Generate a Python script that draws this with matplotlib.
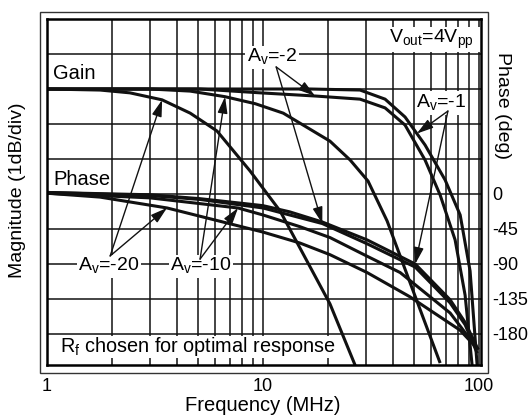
import numpy as np
import matplotlib
matplotlib.use('Agg')
import matplotlib.pyplot as plt
from matplotlib.patches import Rectangle


output_fn = 'out.png'

plt.rcParams['font.family'] = ['Liberation Sans', 'DejaVu Sans']
plt.rcParams['mathtext.fontset'] = 'custom'
plt.rcParams['mathtext.rm'] = 'Liberation Sans'

# Gain, dB relative to the low frequency level (1 dB per division)
gain_freq_av1 = [1, 16.5, 28.1, 36.7, 45.4, 56.2, 69.6, 81.7, 90.8, 97.9]
gain_db_av1 = [0, 0, -0.03, -0.29, -0.8, -1.6, -2.6, -3.6, -5.2, -7.9]

gain_freq_av2 = [1, 5.1, 9.7, 17.4, 28.1, 36.7, 45.4, 56.2, 66.0, 77.4, 86.1, 92.8]
gain_db_av2 = [0, 0, -0.11, -0.2, -0.29, -0.54, -1.03, -2.03, -3.03, -4.31, -5.89, -7.9]

gain_freq_av10 = [1, 3.0, 4.6, 6.67, 9.2, 12.4, 20.4, 25.3, 30.6, 37.5, 49.5, 66]
gain_db_av10 = [0, 0, -0.06, -0.22, -0.42, -0.69, -1.49, -2.03, -2.63, -3.77, -5.77, -7.83]

gain_freq_av20 = [1, 1.76, 2.42, 3.41, 4.6, 6.12, 8.7, 12.0, 20.4, 26.7]
gain_db_av20 = [0, -0.03, -0.11, -0.31, -0.69, -1.2, -2.34, -3.49, -6.14, -7.9]

# Phase, degrees (45 deg per division)
phase_freq_av1 = [1, 3.0, 5.1, 10, 13.3, 18.8, 30.3, 50.6, 73.4, 86.1, 98.9]
phase_deg_av1 = [2, -1, -6, -15, -23, -36, -59, -90, -136, -165, -200]

phase_freq_av2 = [1, 3.0, 5.1, 10, 18.8, 30.3, 50.6, 73.4, 86.1, 98]
phase_deg_av2 = [2, -2, -7, -18, -38, -64, -94, -140, -168, -205]

phase_freq_av10 = [1, 3.0, 7.66, 10, 14.8, 20.4, 30.3, 43.1, 73.4, 98.9]
phase_deg_av10 = [1, -5, -18, -27, -42, -56, -80, -101, -153, -200]

phase_freq_av20 = [1, 1.76, 3.6, 10, 14.8, 20.4, 30.3, 47.7, 81.5, 99]
phase_deg_av20 = [1, -4, -18, -49, -63, -78, -101, -132, -175, -200]

phase_ticks = [0, -45, -90, -135, -180]
freq_ticks = [1, 10, 100]

GAIN_OFFSET = 3.0    # divisions above the 0 deg line
DEG_PER_DIV = 45.0

gains = [(gain_freq_av1, gain_db_av1), (gain_freq_av2, gain_db_av2),
         (gain_freq_av10, gain_db_av10), (gain_freq_av20, gain_db_av20)]
phases = [(phase_freq_av1, phase_deg_av1), (phase_freq_av2, phase_deg_av2),
          (phase_freq_av10, phase_deg_av10), (phase_freq_av20, phase_deg_av20)]


def gain_y(db):
    return GAIN_OFFSET + np.asarray(db, dtype=float)


def phase_y(deg):
    return np.asarray(deg, dtype=float) / DEG_PER_DIV


def on_curve(freq, vals, f):
    return np.interp(np.log10(f), np.log10(freq), vals)


fig = plt.figure(figsize=(5.32, 4.19), dpi=100)
ax = fig.add_axes([47 / 532, 1 - 365 / 419, 434 / 532, 346 / 419])

# outer thin frame round the plot
fig.patches.append(Rectangle((40 / 532, 1 - 373 / 419), 448 / 532, 361 / 419,
                             transform=fig.transFigure, fill=False,
                             lw=1.0, ec='#333333'))

for f, db in gains:
    ax.plot(f, gain_y(db), color='#111111', lw=2.2, solid_capstyle='butt', zorder=3)
for f, deg in phases:
    ax.plot(f, phase_y(deg), color='#111111', lw=2.2, solid_capstyle='butt', zorder=3)

# Axes
ax.set_xscale('log')
ax.set_xlim(1, 102)
ax.set_ylim(-4.886, 5.0)
ax.set_xticks(freq_ticks)
ax.set_xticklabels([str(v) for v in freq_ticks])
ax.set_xticks([m * d for d in (1, 10) for m in range(2, 10)], minor=True)
ax.xaxis.set_minor_formatter(matplotlib.ticker.NullFormatter())
ax.set_yticks(phase_y(phase_ticks))
ax.set_yticklabels([str(v) for v in phase_ticks])
ax.set_yticks([1, 2, 3, 4], minor=True)
ax.yaxis.tick_right()
ax.tick_params(which='both', length=0, labelsize=13)
ax.tick_params(axis='x', pad=9)
ax.tick_params(axis='y', pad=8)
ax.set_axisbelow(True)
ax.grid(which='both', color='#111111', lw=1.1)
for s in ax.spines.values():
    s.set_linewidth(1.8)
    s.set_zorder(5)

# white boxes that hide the grid
ax.add_patch(Rectangle((0.779, 4.06), 0.25, 0.71, transform=ax.get_yaxis_transform(),
                       fc='white', ec='none', zorder=1.5))
ax.add_patch(Rectangle((0.0, -4.69), 0.666, 0.63, transform=ax.get_yaxis_transform(),
                       fc='white', ec='none', zorder=1.5))

ax.text(0.885, 4.43, r'V$_\mathrm{out}$=4V$_\mathrm{pp}$', transform=ax.get_yaxis_transform(),
        ha='center', va='center', fontsize=14, zorder=4)
ax.text(0.030, -4.37, r'R$_\mathrm{f}$ chosen for optimal response',
        transform=ax.get_yaxis_transform(), ha='left', va='center', fontsize=14.3, zorder=4)
ax.text(0.014, 3.43, 'Gain', transform=ax.get_yaxis_transform(),
        ha='left', va='center', fontsize=14.5, zorder=4)
ax.text(0.014, 0.40, 'Phase', transform=ax.get_yaxis_transform(),
        ha='left', va='center', fontsize=14.5, zorder=4)

# Gain/phase callouts: label position, arrow start, curve index, gain target, phase target
callouts = [
    (r'A$_\mathrm{v}$=-20', (1.94, -2.06), (1.96, -1.77), 3, 3.41, 3.59),
    (r'A$_\mathrm{v}$=-10', (5.16, -2.06), (5.11, -1.86), 2, 6.67, 7.66),
    (r'A$_\mathrm{v}$=-2', (11.0, 3.91), (11.5, 3.63), 1, 17.4, 18.8),
    (r'A$_\mathrm{v}$=-1', (66.8, 2.60), (71.7, 2.37), 0, 51.5, 50.6),
]
for label, pos, start, k, fg, fp in callouts:
    gf, gdb = gains[k]
    pf, pdeg = phases[k]
    ax.text(pos[0], pos[1], label, ha='center', va='center', fontsize=14, zorder=6,
            bbox=dict(facecolor='white', edgecolor='none', pad=1.0))
    for tip in [(fg, gain_y(on_curve(gf, gdb, fg))), (fp, phase_y(on_curve(pf, pdeg, fp)))]:
        ax.annotate('', xy=tip, xytext=start, zorder=6,
                    arrowprops=dict(arrowstyle='-|>,head_length=1.0,head_width=0.3',
                                    mutation_scale=10, lw=1.0, color='#111111',
                                    shrinkA=0, shrinkB=0))

fig.text(263 / 532, 1 - 405 / 419, 'Frequency (MHz)', ha='center', va='center', fontsize=14.5)
fig.text(18 / 532, 1 - 190 / 419, 'Magnitude (1dB/div)', ha='center', va='center',
         rotation=90, fontsize=14)
fig.text(503 / 532, 1 - 105 / 419, 'Phase (deg)', ha='center', va='center',
         rotation=270, fontsize=14)

plt.savefig(output_fn, dpi=100)
plt.close()
